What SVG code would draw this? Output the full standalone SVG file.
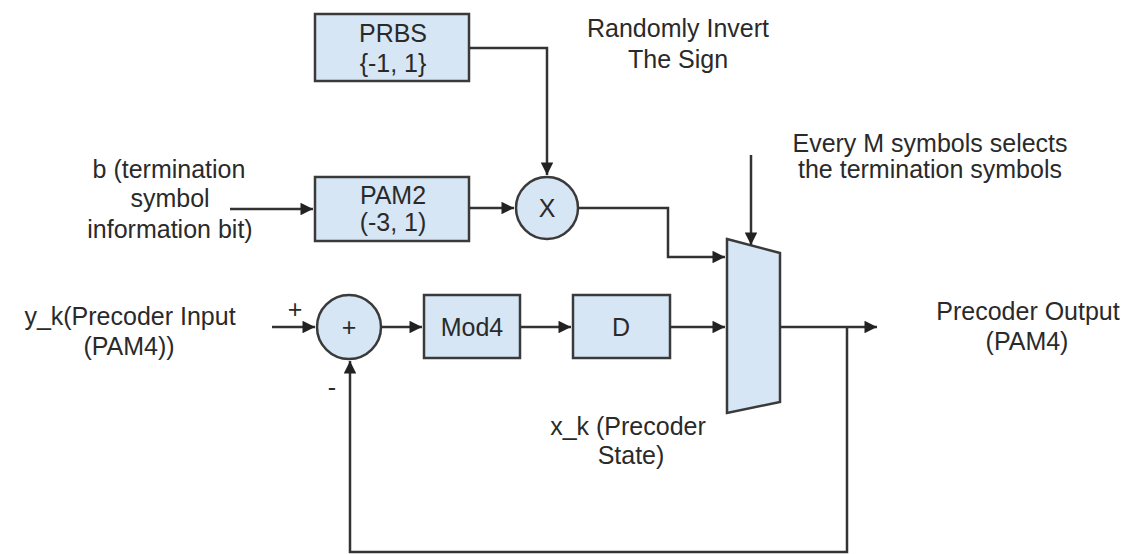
<svg xmlns="http://www.w3.org/2000/svg" width="1129" height="554" viewBox="0 0 1129 554">
<style>
.box{fill:#d6e6f5;stroke:#3a3a3a;stroke-width:2.5}
.ln{fill:none;stroke:#333;stroke-width:2.5}
text{font-family:"Liberation Sans",Arial,sans-serif;font-size:25px;fill:#2a2a2a;text-anchor:middle}
</style>
<defs>
<marker id="ah" viewBox="0 0 10 10" refX="10" refY="5" markerWidth="6.5" markerHeight="5" markerUnits="strokeWidth" orient="auto">
<path d="M0,0 L10,5 L0,10 z" fill="#222"/>
</marker>
</defs>
<rect width="1129" height="554" fill="#fff"/>
<g id="prbs"><rect class="box" x="315" y="14" width="154" height="67"/><text x="393" y="42">PRBS</text><text x="393" y="72">{-1, 1}</text></g>
<g id="pam2"><rect class="box" x="315" y="177" width="154" height="64"/><text x="393" y="204">PAM2</text><text x="393" y="231">(-3, 1)</text></g>
<g id="mult"><circle class="box" cx="547" cy="208" r="31"/><text x="547" y="217">X</text></g>
<g id="sum"><circle class="box" cx="349" cy="327" r="32"/><text x="349" y="336">+</text></g>
<g id="mod4"><rect class="box" x="424" y="295" width="96" height="63"/><text x="472" y="336">Mod4</text></g>
<g id="delay"><rect class="box" x="573" y="295" width="97" height="63"/><text x="621" y="336">D</text></g>
<g id="mux"><polygon class="box" points="727,239 780,253 780,402 727,413"/></g>
<g id="connectors">
<path class="ln" d="M469,48 H547 V175" marker-end="url(#ah)"/>
<path class="ln" d="M230,209 H313" marker-end="url(#ah)"/>
<path class="ln" d="M469,208 H514" marker-end="url(#ah)"/>
<path class="ln" d="M578,208 H668 V257 H725" marker-end="url(#ah)"/>
<path class="ln" d="M751,155 V245" marker-end="url(#ah)"/>
<path class="ln" d="M272,327 H315" marker-end="url(#ah)"/>
<path class="ln" d="M381,327 H422" marker-end="url(#ah)"/>
<path class="ln" d="M520,327 H571" marker-end="url(#ah)"/>
<path class="ln" d="M670,327 H725" marker-end="url(#ah)"/>
<path class="ln" d="M780,327 H877" marker-end="url(#ah)"/>
<path class="ln" d="M847,327 V552 H350 V361" marker-end="url(#ah)"/>
</g>
<g id="labels">
<text x="678" y="37">Randomly Invert</text>
<text x="678" y="68">The Sign</text>
<text x="930" y="152">Every M symbols selects</text>
<text x="930" y="178">the termination symbols</text>
<text x="169" y="178">b (termination</text>
<text x="170" y="207">symbol</text>
<text x="170" y="238">information bit)</text>
<text x="130" y="325">y_k(Precoder Input</text>
<text x="129" y="355">(PAM4))</text>
<text x="295" y="318">+</text>
<text x="332" y="396">-</text>
<text x="628" y="435">x_k (Precoder</text>
<text x="631" y="464">State)</text>
<text x="1028" y="320">Precoder Output</text>
<text x="1027" y="350">(PAM4)</text>
</g>
</svg>
